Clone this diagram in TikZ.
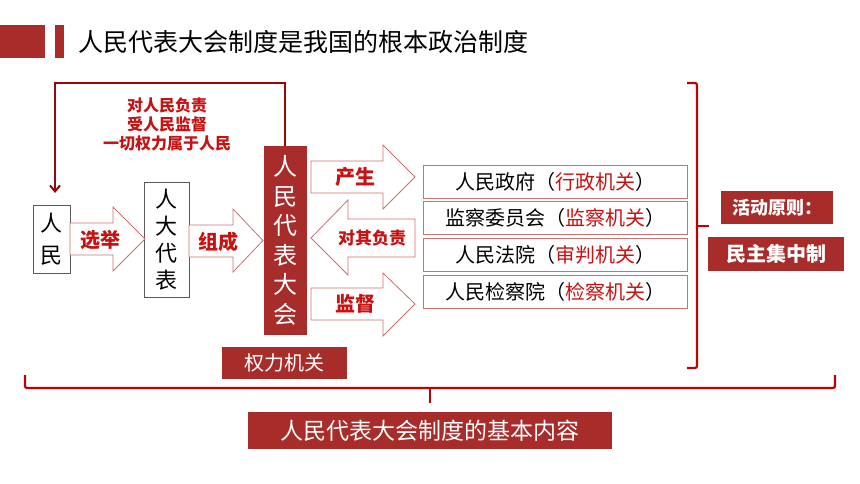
\documentclass[tikz,border=0pt]{standalone}
\usepackage{fontspec}
\setmainfont{Noto Sans CJK SC}
\usepackage{xcolor}
\definecolor{f}{RGB}{168, 44, 42}
\definecolor{t}{RGB}{200, 18, 18}
\definecolor{k}{RGB}{192, 0, 0}
\definecolor{d}{RGB}{150, 8, 8}
\definecolor{p}{RGB}{204, 112, 112}
\definecolor{g}{RGB}{90, 90, 90}
\usetikzlibrary{arrows.meta}

\begin{document}
\begin{tikzpicture}[x=1pt, y=-1pt,
    redbox/.style={fill=f, text=white, inner sep=0pt},
    whitebox/.style={draw=g, fill=white, line width=0.9pt, inner sep=0pt, align=center},
    organ/.style={draw=p, line width=0.8pt, minimum width=264pt, minimum height=33pt, inner sep=0pt, font=\fontsize{20}{20}\selectfont},
    blockarrow/.style={draw=p, fill=white, line width=0.8pt},
    redlabel/.style={text=t, inner sep=0pt, font=\bfseries\fontsize{20}{20}\selectfont}]
        \useasboundingbox (0,0) rectangle (860,484);

        % Title bar
        \fill[f] (0,25) rectangle (45,58);
        \fill[f] (55,25) rectangle (64,58);
        \node[anchor=west, inner sep=0pt, font=\fontsize{25}{25}\selectfont] (title) at (78,42) {人民代表大会制度是我国的根本政治制度};

        % Boxes on the left
        \node[whitebox, minimum width=37pt, minimum height=68pt, font=\fontsize{22}{32}\selectfont] (renmin) at (51.5,239) {人\\民};
        \node[whitebox, minimum width=45pt, minimum height=115pt, font=\fontsize{22}{27}\selectfont] (daibiao) at (166.5,239.5) {人\\大\\代\\表};
        \node[redbox, align=center, minimum width=43pt, minimum height=189pt, font=\fontsize{24}{29.5}\selectfont] (renda) at (285,240.5) {人\\民\\代\\表\\大\\会};
        \node[redbox, minimum width=125pt, minimum height=32pt, font=\fontsize{20}{20}\selectfont] (quanli) at (284.5,363) {权力机关};

        % Feedback line back to the people
        \coordinate (looptop) at (55,83);
        \coordinate (looptip) at (55,193);
        \draw[d, line width=2pt, -{Straight Barb[length=6pt, width=10pt]}] (renda.north) |- (looptop) -- (looptip);
        \node[text=t, align=center, inner sep=0pt, font=\bfseries\fontsize{16}{19}\selectfont] (zeren) at (167,124) {对人民负责\\受人民监督\\一切权力属于人民};

        % Block arrows
        \draw[blockarrow] (70,223) -- (113,223) -- (113,207) -- (145,239) -- (113,271) -- (113,255) -- (70,255) -- cycle;
        \draw[blockarrow] (189,225) -- (233,225) -- (233,209) -- (263,240.5) -- (233,272) -- (233,257) -- (189,257) -- cycle;
        \draw[blockarrow] (311,161) -- (383,161) -- (383,145) -- (415,177) -- (383,209) -- (383,193) -- (311,193) -- cycle;
        \draw[blockarrow] (415,219) -- (348,219) -- (348,200) -- (311,238) -- (348,275) -- (348,257) -- (415,257) -- cycle;
        \draw[blockarrow] (311,288) -- (383,288) -- (383,273) -- (415,304) -- (383,336) -- (383,320) -- (311,320) -- cycle;
        \node[redlabel] (xuanju) at (100,240) {选举};
        \node[redlabel] (zucheng) at (218,242) {组成};
        \node[redlabel] (chansheng) at (355,177) {产生};
        \node[redlabel, font=\bfseries\fontsize{17}{17}\selectfont] (fuze) at (372,238) {对其负责};
        \node[redlabel] (jiandu) at (355,304) {监督};

        % State organs
        \node[organ] (zhengfu) at (555,181.5) {人民政府（\textcolor{t}{行政机关}）};
        \node[organ] (jiancha) at (555,218) {监察委员会（\textcolor{t}{监察机关}）};
        \node[organ] (fayuan) at (555,254.5) {人民法院（\textcolor{t}{审判机关}）};
        \node[organ] (jianchayuan) at (555,291.5) {人民检察院（\textcolor{t}{检察机关}）};

        % Right bracket and principle
        \draw[k, line width=2.2pt, rounded corners=2pt] (687,83) -- (697,83) -- (697,368) -- (687,368);
        \draw[k, line width=2.2pt] (697,226) -- (709,226);
        \node[redbox, minimum width=112pt, minimum height=33pt, font=\bfseries\fontsize{18}{18}\selectfont] (yuanze) at (777,207.5) {活动原则：};
        \node[redbox, minimum width=136pt, minimum height=34pt, font=\bfseries\fontsize{20}{20}\selectfont] (jizhong) at (776,254) {民主集中制};

        % Bottom brace and content
        \draw[k, line width=2.2pt, rounded corners=2pt] (25,375) -- (25,388) -- (835,388) -- (835,375);
        \draw[k, line width=2.2pt] (430,388) -- (430,403);
        \node[redbox, minimum width=364pt, minimum height=37pt, font=\fontsize{23}{23}\selectfont] (neirong) at (430,430.5) {人民代表大会制度的基本内容};
    \end{tikzpicture}
\end{document}
